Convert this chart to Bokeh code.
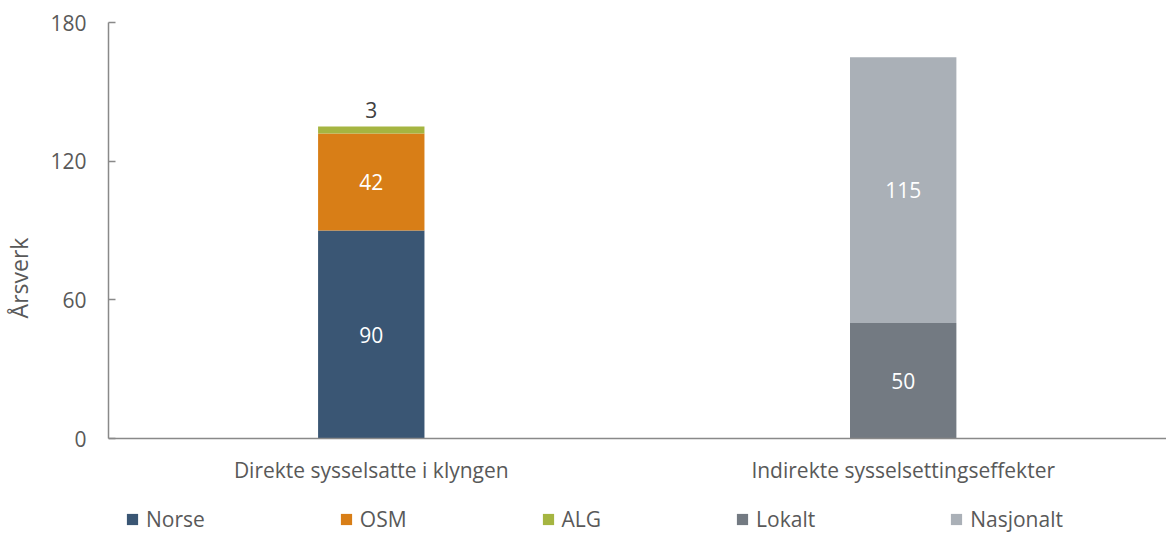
from bokeh.plotting import figure
from bokeh.models import Range1d, FixedTicker, Legend, LegendItem, ColumnDataSource, Span
from bokeh.core.properties import value
from bokeh.embed import file_html
from bokeh.resources import INLINE

categories = ["Direkte sysselsatte i klyngen", "Indirekte sysselsettingseffekter"]
series = ["Norse", "OSM", "ALG", "Lokalt", "Nasjonalt"]
norse = [90, 0]
osm = [42, 0]
alg = [3, 0]
lokalt = [0, 50]
nasjonalt = [0, 115]
colors = ["#3A5674", "#D87E17", "#A5B541", "#737A82", "#AAB0B7"]
y_ticks = [0, 60, 120, 180]
y_min, y_max = 0, 180

FONT = "Open Sans"
FS = "21px"
TXT = "#595959"
AXC = "#898989"

xpos = list(range(len(categories)))
data = {"x": xpos, "Norse": norse, "OSM": osm, "ALG": alg, "Lokalt": lokalt, "Nasjonalt": nasjonalt}
src = ColumnDataSource(data)

# frame extends below the value axis to hold category labels and legend
p = figure(width=1166, height=533,
           x_range=Range1d(-0.494, 1.495), y_range=Range1d(-41.1, y_max),
           x_axis_location=None,
           output_backend="svg", toolbar_location=None,
           min_border_left=106, min_border_right=0, min_border_top=22, min_border_bottom=0)
p.outline_line_color = None
p.grid.grid_line_color = None

renderers = p.vbar_stack(series, x="x", width=0.2, source=src, color=colors, line_color=None)

# baseline (category axis line)
p.add_layout(Span(location=0, dimension="width", line_color=AXC, line_width=1.5))

# category labels
p.text(x=xpos, y=[0] * len(xpos), text=categories, text_align="center", text_baseline="top",
       y_offset=17, text_color=TXT, text_font=value(FONT), text_font_size=FS)

# value labels
labels_x, labels_y, labels_t = [], [], []
above_x, above_y, above_t = [], [], []
for i in xpos:
    base = 0
    for s in series:
        v = data[s][i]
        if v > 0:
            if v < 10:
                above_x.append(i); above_y.append(base + v); above_t.append(str(v))
            else:
                labels_x.append(i); labels_y.append(base + v / 2); labels_t.append(str(v))
        base += v

p.text(x=labels_x, y=labels_y, text=labels_t, text_align="center", text_baseline="middle",
       text_color="white", text_font=value(FONT), text_font_size=FS)
p.text(x=above_x, y=above_y, text=above_t, text_align="center", text_baseline="bottom",
       y_offset=-9, text_color="#404040", text_font=value(FONT), text_font_size=FS)

# value axis
ya = p.yaxis[0]
ya.bounds = (y_min, y_max)
ya.ticker = FixedTicker(ticks=y_ticks)
ya.axis_line_color = AXC
ya.axis_line_width = 1.5
ya.major_tick_line_color = AXC
ya.major_tick_line_width = 1.5
ya.major_tick_in = 7
ya.major_tick_out = 0
ya.minor_tick_line_color = None
ya.major_label_standoff = 22
ya.major_label_text_font = FONT
ya.major_label_text_font_size = FS
ya.major_label_text_color = TXT
ya.axis_label = "Årsverk"
ya.axis_label_standoff = 12
ya.axis_label_text_font = FONT
ya.axis_label_text_font_size = "23px"
ya.axis_label_text_font_style = "normal"
ya.axis_label_text_color = TXT

legend = Legend(items=[LegendItem(label=s, renderers=[r]) for s, r in zip(series, renderers)],
                location=(17, 0), orientation="horizontal",
                glyph_width=14, glyph_height=14, label_height=16, label_standoff=7, spacing=134,
                padding=0, margin=0, border_line_alpha=0, background_fill_alpha=0,
                label_text_font=FONT, label_text_font_size=FS, label_text_color=TXT)
p.add_layout(legend, "center")

open("out.html", "w").write(file_html(p, INLINE))
